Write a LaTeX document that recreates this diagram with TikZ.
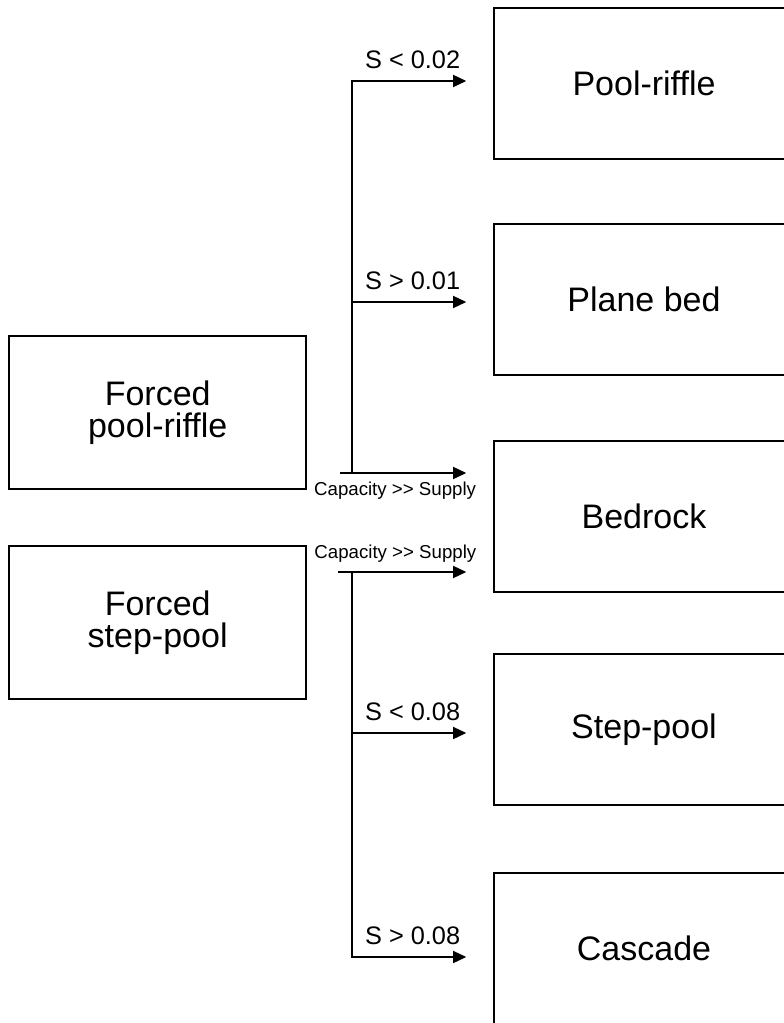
\documentclass[tikz,border=0pt]{standalone}
\usepackage{fontspec}
\setmainfont{Liberation Sans}
\usetikzlibrary{arrows.meta}

\begin{document}
\begin{tikzpicture}[x=0.75pt, y=-0.75pt, >={Triangle[length=10pt,width=9pt]},
    morph/.style={draw, line width=1.5pt, anchor=north west, minimum width=225pt,
        minimum height=113pt, align=center, font=\fontsize{25.5}{24}\selectfont},
    forced/.style={morph, minimum width=223pt, minimum height=115pt},
    link/.style={line width=1.5pt},
    cond/.style={above=5pt, pos=0.43, font=\fontsize{19}{22}\selectfont},
    supply/.style={font=\fontsize{14}{17}\selectfont}]
    \useasboundingbox (0,0) rectangle (784,1023);

    \node[morph] (pr)  at (493,7)   {Pool-riffle};
    \node[morph] (pb)  at (493,223) {Plane bed};
    \node[morph] (bed) at (493,440) {Bedrock};
    \node[morph] (sp)  at (493,653) {Step-pool};
    \node[morph] (cas) at (493,872) {Cascade};

    \node[forced] (fpr) at (8,335) {Forced\\pool-riffle};
    \node[forced] (fsp) at (8,545) {Forced\\step-pool};

    \coordinate (up1) at (352,81);
    \coordinate (up2) at (352,302);
    \coordinate (up3) at (352,473);
    \coordinate (upin) at (340,473);
    \coordinate (lo1) at (352,572);
    \coordinate (loin) at (338,572);
    \coordinate (lo2) at (352,733);
    \coordinate (lo3) at (352,957);

    \draw[link, ->, shorten >=20pt] (up3) -- (up1) -- node[cond] {S < 0.02} (up1 -| pr.west);
    \draw[link, ->, shorten >=20pt] (up2) -- node[cond] {S > 0.01} (up2 -| pb.west);
    \draw[link, ->, shorten >=20pt] (upin) -- node[supply, below=3pt, pos=0.36] {Capacity >{}> Supply} (upin -| bed.west);

    \draw[link, ->, shorten >=20pt] (loin) -- node[supply, above=3pt, pos=0.37] {Capacity >{}> Supply} (loin -| bed.west);
    \draw[link, ->, shorten >=20pt] (lo2) -- node[cond] {S < 0.08} (lo2 -| sp.west);
    \draw[link, ->, shorten >=20pt] (lo1) -- (lo3) -- node[cond] {S > 0.08} (lo3 -| cas.west);
\end{tikzpicture}
\end{document}
